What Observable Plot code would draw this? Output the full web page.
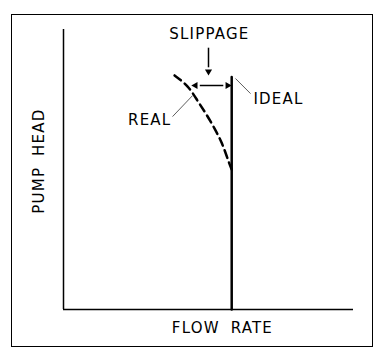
<!DOCTYPE html>
<html>
<head>
<meta charset="utf-8">
<script src="https://cdn.jsdelivr.net/npm/d3@7"></script>
<script src="https://cdn.jsdelivr.net/npm/@observablehq/plot@0.6"></script>
<style>
  html, body { margin: 0; padding: 0; background: #fff; }
  #wrap { position: relative; width: 388px; height: 360px; }
  #border { position: absolute; left: 11px; top: 14px; width: 360px; height: 331px; border: 1.5px solid #000; pointer-events: none; }
  svg { position: absolute; left: 0; top: 0; }
  svg text { letter-spacing: 1.2px; word-spacing: 5px; }
</style>
</head>
<body>
<div id="wrap"><div id="border"></div></div>
<script>
// Ideal (no-slip) flow: vertical line at a fixed flow rate
const idealFlow = [58, 58];
const idealHead = [0, 83];
// Real curve (dashed)
const realFlow = [38.3, 42.8, 46.2, 49.3, 52.1, 54.5, 56.2, 57.2, 58];
const realHead = [83.6, 79.6, 74.6, 69.6, 64.6, 59.6, 55.0, 52.1, 50];
// Slippage arrow (horizontal double arrow) and pointer arrow
const slipFlow = [45.5, 56.6];
const slipHead = 80;
const pointerFlow = 50;
const pointerHead = [93.5, 85];
// Annotation texts
const labelText = ["SLIPPAGE", "IDEAL", "REAL", "FLOW RATE", "PUMP HEAD"];
const labelX = [50.3, 65.5, 37.2, 54.8, -8.3];
const labelY = [98.2, 75, 67.5, -6.8, 53];
const labelAnchor = ["middle", "start", "end", "middle", "middle"];
const labelRotate = [0, 0, 0, 0, -90];
// Leader lines (x1,y1,x2,y2)
const leaders = [
  {x1: 59.3, y1: 82.5, x2: 64.5, y2: 77.1},
  {x1: 44.5, y1: 76.4, x2: 37.6, y2: 68.9}
];

const ideal = idealFlow.map((x, i) => ({x, y: idealHead[i]}));
const real = realFlow.map((x, i) => ({x, y: realHead[i]}));
const labels = labelText.map((t, i) => ({t, x: labelX[i], y: labelY[i], a: labelAnchor[i], r: labelRotate[i]}));

const font = "DejaVu Sans";
const textMarks = ["start", "middle", "end"].map(a =>
  Plot.text(labels.filter(d => d.a === a), {x: "x", y: "y", text: "t", textAnchor: a, rotate: "r", fontSize: 15, fill: "#000", fontFamily: font, clip: false})
);
const plot = Plot.plot({
  width: 388,
  height: 360,
  marginLeft: 63,
  marginTop: 29,
  marginRight: 35,
  marginBottom: 51,
  x: {domain: [0, 100], axis: null},
  y: {domain: [0, 100], axis: null},
  style: {fontFamily: font, background: "transparent"},
  marks: [
    Plot.ruleX([0], {y1: 0, y2: 100, stroke: "#000", strokeWidth: 1.5}),
    Plot.ruleY([0], {x1: 0, x2: 100, stroke: "#000", strokeWidth: 1.5}),
    Plot.line(ideal, {x: "x", y: "y", stroke: "#000", strokeWidth: 2.5}),
    Plot.line(real, {x: "x", y: "y", curve: "natural", stroke: "#000", strokeWidth: 2.5, strokeDasharray: "8,5"}),
    // horizontal double arrow
    Plot.link([{}], {x1: () => slipFlow[0] + 1.5, x2: () => slipFlow[1] - 1.5, y1: () => slipHead, y2: () => slipHead, stroke: "#000", strokeWidth: 1.5}),
    Plot.dot([{x: slipFlow[0], r: -90}, {x: slipFlow[1], r: 90}], {x: "x", y: () => slipHead, rotate: "r", symbol: "triangle2", r: 3.4, fill: "#000", stroke: "none"}),
    // downward pointer arrow
    Plot.link([{}], {x1: () => pointerFlow, x2: () => pointerFlow, y1: () => pointerHead[0], y2: () => pointerHead[1] + 1.5, stroke: "#000", strokeWidth: 1.5}),
    Plot.dot([{}], {x: () => pointerFlow, y: () => pointerHead[1], rotate: 180, symbol: "triangle2", r: 3.4, fill: "#000", stroke: "none"}),
    // leaders
    Plot.link(leaders, {x1: "x1", y1: "y1", x2: "x2", y2: "y2", stroke: "#333", strokeWidth: 0.8}),
    ...textMarks
  ]
});
document.getElementById("wrap").prepend(plot);
</script>
</body>
</html>
